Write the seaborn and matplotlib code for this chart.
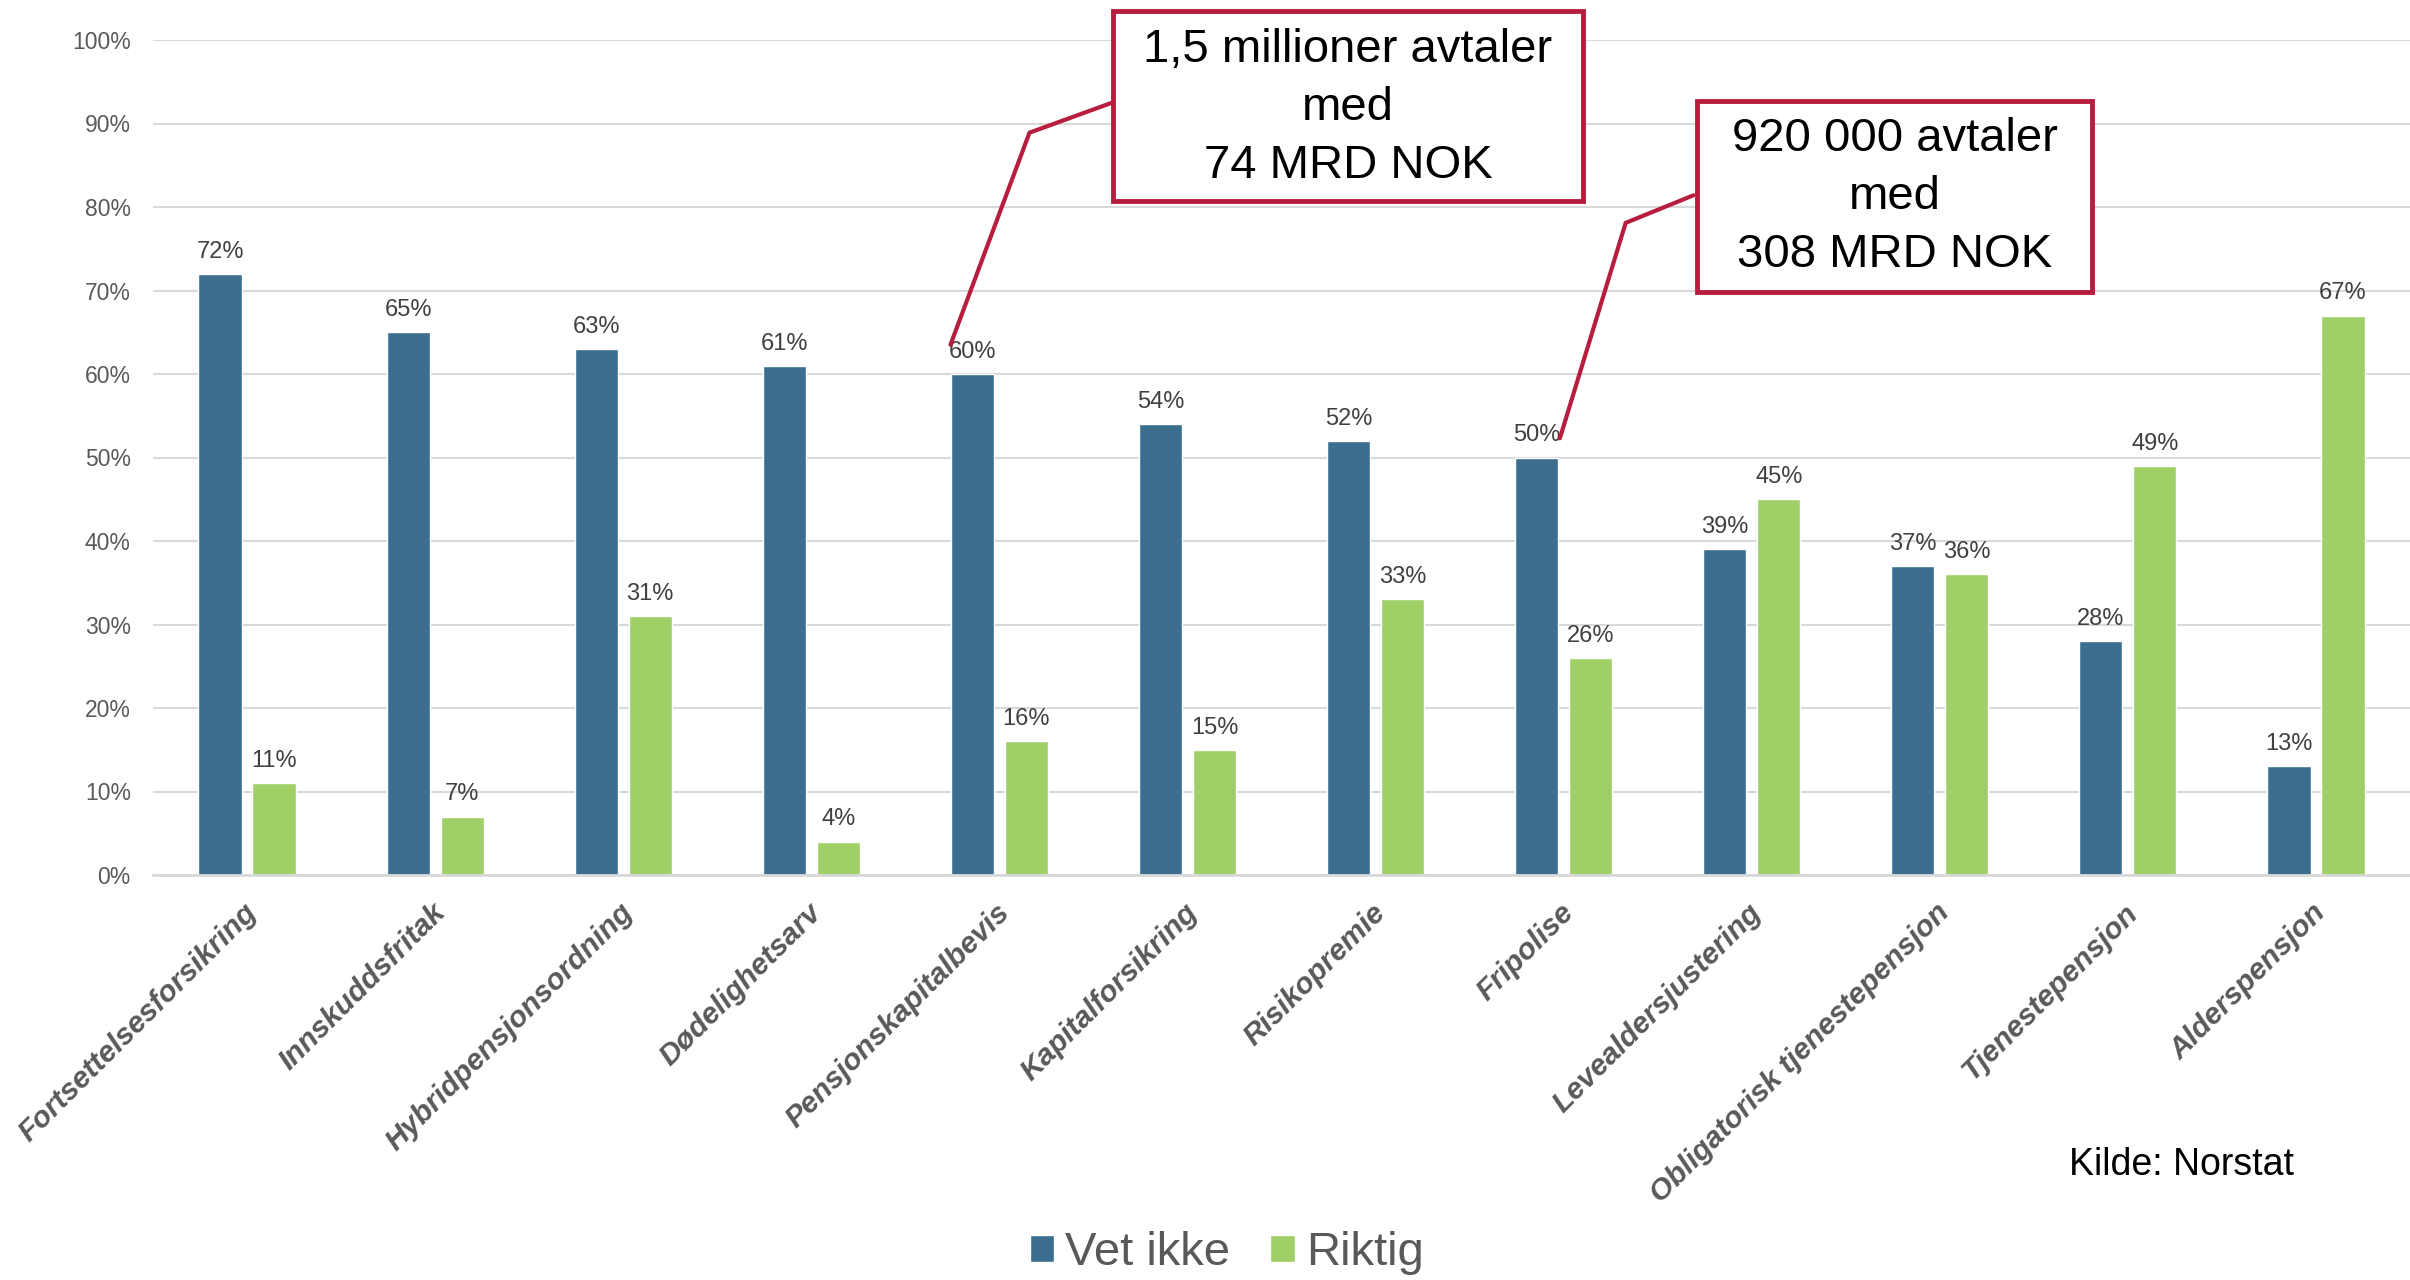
import matplotlib
matplotlib.use("Agg")
import matplotlib.pyplot as plt
import matplotlib.transforms as mtransforms
from matplotlib.patches import Rectangle
from matplotlib.lines import Line2D
import seaborn as sns
import pandas as pd

# Data lest av figuren
kategorier = [
    "Fortsettelsesforsikring", "Innskuddsfritak", "Hybridpensjonsordning",
    "Dødelighetsarv", "Pensjonskapitalbevis", "Kapitalforsikring",
    "Risikopremie", "Fripolise", "Levealdersjustering",
    "Obligatorisk tjenestepensjon", "Tjenestepensjon", "Alderspensjon",
]
vet_ikke = [72, 65, 63, 61, 60, 54, 52, 50, 39, 37, 28, 13]
riktig = [11, 7, 31, 4, 16, 15, 33, 26, 45, 36, 49, 67]
serier = ["Vet ikke", "Riktig"]
farger = ["#3C6E8F", "#A1CF67"]
y_ticks = list(range(0, 101, 10))

boks1_tekst = "1,5 millioner avtaler\nmed\n74 MRD NOK"
boks2_tekst = "920 000 avtaler\nmed\n308 MRD NOK"
kilde = "Kilde: Norstat"

RAD = "#B71E3E"
GRAA = "#595959"

sns.set_theme(style="white")
plt.rcParams["font.family"] = ["Liberation Sans", "DejaVu Sans"]

df = pd.DataFrame({
    "kategori": kategorier * 2,
    "serie": [serier[0]] * len(kategorier) + [serier[1]] * len(kategorier),
    "andel": vet_ikke + riktig,
})

W, H = 2410, 1280
fig = plt.figure(figsize=(W / 100, H / 100), dpi=100)
ax = fig.add_axes([153 / W, 1 - 875 / H, 1 - 153 / W, (875 - 40) / H])

sns.barplot(
    data=df, x="kategori", y="andel", hue="serie", hue_order=serier,
    palette=farger, width=0.574, gap=0.2, saturation=1,
    errorbar=None, ax=ax,
)

# Verdietiketter
for cont in ax.containers:
    ax.bar_label(cont, fmt="{:.0f}%", padding=8, fontsize=17, color="#404040")

# Akser og rutenett
ax.set_ylim(0, 100)
ax.set_yticks(y_ticks)
ax.set_yticklabels([f"{v}%" for v in y_ticks])
ax.yaxis.grid(True, color="#D9D9D9", linewidth=1.5)
ax.set_axisbelow(True)
for s in ["top", "right", "left"]:
    ax.spines[s].set_visible(False)
ax.spines["bottom"].set_color("#D9D9D9")
ax.spines["bottom"].set_linewidth(2)
ax.set_xlabel("")
ax.set_ylabel("")
ax.tick_params(axis="y", length=0, pad=16, labelsize=16.5, labelcolor=GRAA)
ax.tick_params(axis="x", length=0, pad=24)

ax.set_xticks(range(len(kategorier)))
ax.set_xticklabels(kategorier, rotation=45, ha="right", va="center",
                   rotation_mode="anchor", fontsize=21.5, fontweight="bold",
                   fontstyle="italic", color=GRAA)
forskyv = mtransforms.ScaledTranslation(4 / 72, 0, fig.dpi_scale_trans)
for lab in ax.get_xticklabels():
    lab.set_transform(lab.get_transform() + forskyv)

# Legende
handles, labels = ax.get_legend_handles_labels()
ax.get_legend().remove()
fig.legend(handles, labels, loc="center", bbox_to_anchor=(0.509, 0.021),
           ncol=2, frameon=False, fontsize=34, handlelength=0.52,
           handleheight=0.52, handletextpad=0.23, columnspacing=0.85,
           labelcolor=GRAA)

fig.text(2069 / W, 1 - 1165 / H, kilde, fontsize=27, ha="left", va="center",
         color="black")

# Kommentarbokser
def boks(x0, y0, x1, y1, tekst, cx, cy):
    fig.add_artist(Rectangle((x0 / W, 1 - y1 / H), (x1 - x0) / W, (y1 - y0) / H,
                             transform=fig.transFigure, facecolor="white",
                             edgecolor=RAD, linewidth=3.5, zorder=5))
    fig.text(cx / W, 1 - cy / H, tekst, ha="center", va="center",
             multialignment="center", fontsize=34, linespacing=1.40,
             color="black", zorder=6)

boks(1113, 11, 1583, 201, boks1_tekst, 1348, 108)
boks(1697, 101, 2092, 292, boks2_tekst, 1895, 197)

ax.add_line(Line2D([3.74, 4.16, 4.60], [63.5, 88.9, 92.5], color=RAD,
                   linewidth=3.0, clip_on=False, zorder=4))
ax.add_line(Line2D([6.98, 7.33, 7.69], [52.3, 78.1, 81.4], color=RAD,
                   linewidth=3.0, clip_on=False, zorder=4))

fig.savefig("out.png", dpi=100)
